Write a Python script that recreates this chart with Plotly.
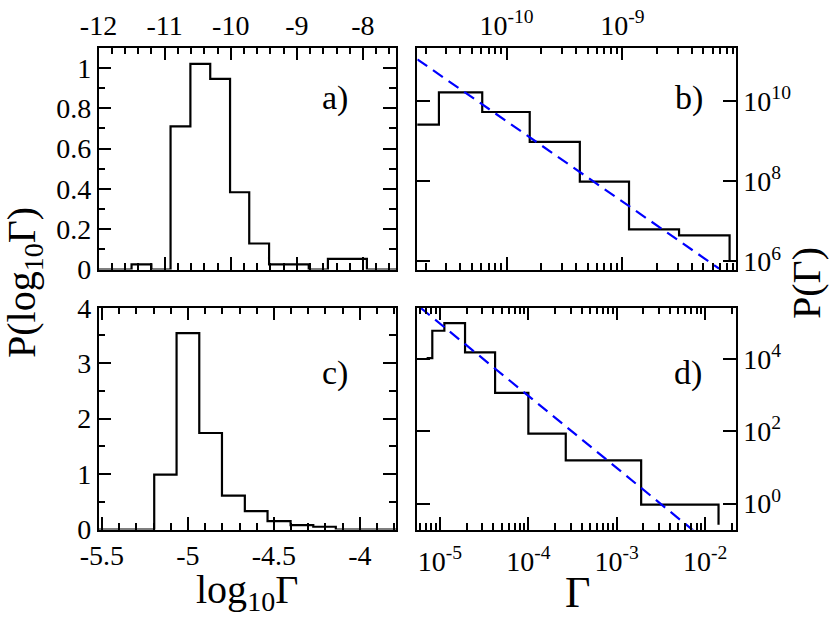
import plotly.graph_objects as go

# ---- data ----
# a) distribution of log10(Gamma), upper sample
a_edges = [-12.09, -11.80, -11.50, -11.20, -10.91, -10.61, -10.31, -10.01, -9.72,
           -9.42, -9.12, -8.82, -8.53, -8.23, -7.94, -7.64, -7.35]
a_heights = [0, 0, 0.025, 0, 0.71, 1.02, 0.945, 0.383, 0.129, 0.025, 0.025, 0,
             0.053, 0.053, 0, 0]
a_ticks = [-12, -11, -10, -9, -8]
a_ticktext = ['-12', '-11', '-10', '-9', '-8']

# b) P(Gamma), upper sample, log-log
b_edges = [1.6e-11, 2.61e-11, 6.17e-11, 1.585e-10, 4.29e-10, 1.14e-9, 3.08e-9, 8.41e-9]
b_heights = [2.54e9, 1.62e10, 5.25e9, 9.46e8, 9.66e7, 6.31e6, 4.47e6, 1.0e6]
b_fit_x = [1.7e-11, 6.9e-9]
b_fit_y = [1.07e11, 6.5e5]

# c) distribution of log10(Gamma), lower sample
c_edges = [-5.60, -5.33, -5.196, -5.066, -4.934, -4.802, -4.669, -4.537, -4.403,
           -4.271, -4.140, -4.008, -3.876, -3.744]
c_heights = [0, 0, 0.99, 3.54, 1.74, 0.61, 0.33, 0.15, 0.08, 0.05, 0, 0, 0]
c_ticks = [-5.5, -5, -4.5, -4]
c_ticktext = ['-5.5', '-5', '-4.5', '-4']

# d) P(Gamma), lower sample, log-log
d_edges = [7.06e-6, 8.18e-6, 1.12e-5, 1.92e-5, 4.20e-5, 1.0e-4, 2.65e-4, 1.89e-3, 1.42e-2]
d_heights = [1.07e4, 6.17e4, 1.0e5, 1.55e4, 1175, 87, 15.8, 0.93, 0.26]
d_fit_x = [6.0e-6, 7.9e-3]
d_fit_y = [2.7e5, 0.155]

b_xticks = [1e-10, 1e-9]
b_xticktext = ['10<sup>-10</sup>', '10<sup>-9</sup>']
b_yticks = [1e6, 1e8, 1e10]
b_yticktext = ['10<sup>6</sup>', '10<sup>8</sup>', '10<sup>10</sup>']
d_xticks = [1e-5, 1e-4, 1e-3, 1e-2]
d_xticktext = ['10<sup>-5</sup>', '10<sup>-4</sup>', '10<sup>-3</sup>', '10<sup>-2</sup>']
d_yticks = [1, 1e2, 1e4]
d_yticktext = ['10<sup>0</sup>', '10<sup>2</sup>', '10<sup>4</sup>']

W, H = 830, 621
FONT = 'Liberation Serif'


def xdom(x0, x1):
    return [x0 / W, x1 / W]


def ydom(top, bottom):
    return [1 - bottom / H, 1 - top / H]


def log_minors(decades):
    vals = []
    for d in decades:
        for m in range(2, 10):
            vals.append(m * 10.0 ** d)
    return vals


def axis_style(**kw):
    base = dict(showline=True, linewidth=1.5, linecolor='black', mirror='allticks',
                ticks='inside', ticklen=13, tickwidth=1.5, tickcolor='black',
                showgrid=False, zeroline=False, automargin=False,
                tickfont=dict(family=FONT, size=28, color='black'))
    base.update(kw)
    return base


minor_lin = lambda dt, t0: dict(ticks='inside', ticklen=7, tickwidth=1.5,
                                tickcolor='black', dtick=dt, tick0=t0)

fig = go.Figure()

line_blk = dict(color='black', width=2.2, shape='hv')
dash_blue = dict(color='#0000ff', width=2.2, dash='12px,7px')

fig.add_trace(go.Scatter(x=a_edges, y=a_heights + [a_heights[-1]], mode='lines',
                         line=line_blk, xaxis='x', yaxis='y'))
fig.add_trace(go.Scatter(x=b_edges, y=b_heights, mode='lines',
                         line=line_blk, xaxis='x2', yaxis='y2'))
fig.add_trace(go.Scatter(x=b_fit_x, y=b_fit_y, mode='lines',
                         line=dash_blue, xaxis='x2', yaxis='y2'))
fig.add_trace(go.Scatter(x=c_edges, y=c_heights + [c_heights[-1]], mode='lines',
                         line=line_blk, xaxis='x3', yaxis='y3'))
fig.add_trace(go.Scatter(x=d_edges, y=d_heights, mode='lines',
                         line=line_blk, xaxis='x4', yaxis='y4'))
fig.add_trace(go.Scatter(x=d_fit_x, y=d_fit_y, mode='lines',
                         line=dash_blue, xaxis='x4', yaxis='y4'))

left = (98.5, 396)
right = (417.3, 736)
top = (47.7, 269.5)
bot = (307.7, 529.5)

fig.update_layout(
    width=W, height=H,
    margin=dict(l=0, r=0, t=0, b=0, autoexpand=False),
    plot_bgcolor='white', paper_bgcolor='white',
    showlegend=False,
    font=dict(family=FONT, color='black'),
    xaxis=axis_style(domain=xdom(*left), anchor='y', side='top', range=[-12, -7.5],
                     tickmode='array', tickvals=a_ticks, ticktext=a_ticktext,
                     minor=minor_lin(0.2, -12)),
    yaxis=axis_style(domain=ydom(*top), anchor='x', range=[0, 1.1],
                     tickmode='array', tickvals=[0, 0.2, 0.4, 0.6, 0.8, 1],
                     ticktext=['0', '0.2', '0.4', '0.6', '0.8', '1'],
                     minor=minor_lin(0.1, 0)),
    xaxis2=axis_style(domain=xdom(*right), anchor='y2', side='top', type='log',
                      range=[-10.77, -8.02], tickmode='array', tickvals=b_xticks,
                      ticktext=b_xticktext,
                      minor=dict(ticks='inside', ticklen=7, tickwidth=1.5, tickcolor='black',
                                 tickmode='array', tickvals=log_minors([-11, -10, -9]))),
    yaxis2=axis_style(domain=ydom(*top), anchor='x2', side='right', type='log',
                      range=[5.8, 11.32], tickmode='array', tickvals=b_yticks,
                      ticktext=b_yticktext),
    xaxis3=axis_style(domain=xdom(*left), anchor='y3', range=[-5.52, -3.79],
                      tickmode='array', tickvals=c_ticks, ticktext=c_ticktext,
                      minor=minor_lin(0.1, -5.5)),
    yaxis3=axis_style(domain=ydom(*bot), anchor='x3', range=[0, 4],
                      tickmode='array', tickvals=[0, 1, 2, 3, 4],
                      minor=minor_lin(0.5, 0)),
    xaxis4=axis_style(domain=xdom(*right), anchor='y4', type='log',
                      range=[-5.257, -1.65], tickmode='array', tickvals=d_xticks,
                      ticktext=d_xticktext, ticklabelstandoff=6,
                      minor=dict(ticks='inside', ticklen=7, tickwidth=1.5, tickcolor='black',
                                 tickmode='array', tickvals=log_minors([-6, -5, -4, -3, -2]))),
    yaxis4=axis_style(domain=ydom(*bot), anchor='x4', side='right', type='log',
                      range=[-0.72, 5.43], tickmode='array', tickvals=d_yticks,
                      ticktext=d_yticktext),
)


def label(text, x, y, size, angle=0):
    fig.add_annotation(text=text, x=x / W, y=1 - y / H, xref='paper', yref='paper',
                       showarrow=False, xanchor='center', yanchor='middle',
                       textangle=angle, font=dict(family=FONT, size=size, color='black'))


label('a)', 335, 98, 34)
label('b)', 689, 98, 34)
label('c)', 335, 373, 34)
label('d)', 688, 373, 34)
label('P(log<sub>10</sub>Γ)', 24, 283, 40, -90)
label('P(Γ)', 806, 283, 40, -90)
label('log<sub>10</sub>Γ', 247, 592, 40)
label('Γ', 577, 592, 44)

# the page's default body margin would shift the figure by 8px
fig.write_html("out.html", config={'displayModeBar': False},
               post_script="document.body.style.margin='0';")
